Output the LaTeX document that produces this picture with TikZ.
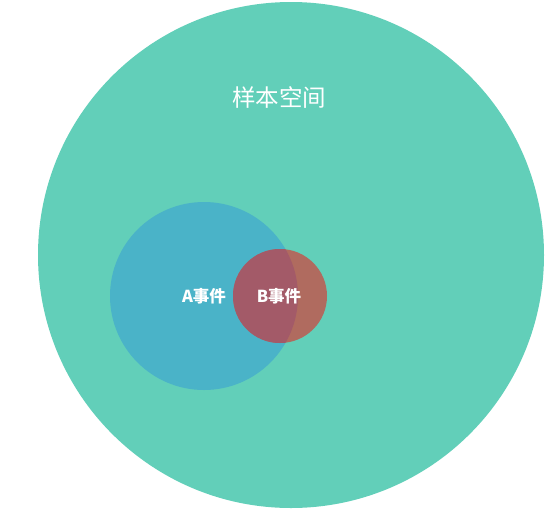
\documentclass[tikz,border=0pt]{standalone}
\usepackage{fontspec}
\newfontfamily\cjk{Noto Sans CJK SC}
\definecolor{spacecol}{HTML}{62CFB9}
\definecolor{acol}{HTML}{4AB3C8}
\definecolor{bcol}{HTML}{B06B5F}
\definecolor{abcol}{HTML}{A35A68}
\tikzset{lbl/.style={text=white,font=\cjk\fontsize{16.5}{19}\selectfont\bfseries,inner sep=0pt}}
\begin{document}
\begin{tikzpicture}[x=1pt,y=-1pt]
\useasboundingbox (0,0) rectangle (555,515);
\fill[spacecol] (291,255) circle (253);
\fill[acol] (204,296) circle (94);
\fill[bcol] (280,296) circle (47);
\begin{scope}
\clip (204,296) circle (94);
\fill[abcol] (280,296) circle (47);
\end{scope}
\node[text=white,font=\cjk\fontsize{23.5}{28}\selectfont,inner sep=0pt] (space) at (279,97) {样本空间};
\node[lbl] (a) at (204,296) {A事件};
\node[lbl] (b) at (279,296) {B事件};
\end{tikzpicture}
\end{document}
